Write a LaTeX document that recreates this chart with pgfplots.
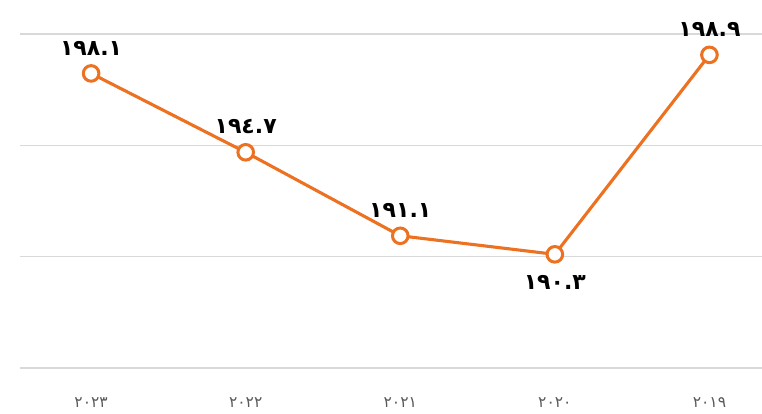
\documentclass[border=0pt]{standalone}
\usepackage{pgfplots}
\usepackage{pgfplotstable}
\pgfplotsset{compat=1.18}
\usepackage{fontspec}
\setmainfont{DejaVu Sans}
\newfontfamily\arabicfont[Script=Arabic]{DejaVu Sans}
\definecolor{lineorange}{HTML}{EC7120}
\definecolor{gridgray}{HTML}{D9D9D9}
\definecolor{ticklab}{HTML}{595959}
\pgfplotstableread{
x y
0 198.1
1 194.7
2 191.1
3 190.3
4 198.9
}\datatable
\pgfplotstableread{
x y lab
0 198.1 ١٩٨.١
1 194.7 ١٩٤.٧
2 191.1 ١٩١.١
4 198.9 ١٩٨.٩
}\abovetable
\pgfplotstableread{
x y lab
3 190.3 ١٩٠.٣
}\belowtable
\begin{document}
\begin{tikzpicture}
\useasboundingbox (-20pt,-46pt) rectangle (742pt,368pt);
\begin{axis}[
  at={(0pt,0pt)}, anchor=south west,
  scale only axis,
  width=742pt, height=334pt,
  xmin=-0.46, xmax=4.34,
  ymin=185.4, ymax=199.8,
  ytick={185.4,190.2,195.0,199.8},
  yticklabels={},
  xtick={0,1,2,3,4},
  xticklabels={{٢٠٢٣},{٢٠٢٢},{٢٠٢١},{٢٠٢٠},{٢٠١٩}},
  xticklabel style={font=\arabicfont\fontsize{15.5}{15.5}\selectfont, text=ticklab, inner sep=0pt, anchor=north, yshift=-29pt},
  ymajorgrids,
  major grid style={gridgray, line width=1.3pt},
  axis line style={draw=none},
  tick style={draw=none},
  clip=false,
]
\addplot[
  lineorange, line width=3.1pt,
  mark=*, mark size=7.8pt,
  mark options={fill=white, draw=lineorange, line width=3pt},
] table[x=x, y=y] {\datatable};
\addplot[
  draw=none, mark=none,
  point meta=explicit symbolic,
  nodes near coords,
  every node near coord/.append style={font=\arabicfont\bfseries\fontsize{22}{22}\selectfont, text=black, inner sep=0pt, anchor=south, yshift=18pt},
] table[x=x, y=y, meta=lab] {\abovetable};
\addplot[
  draw=none, mark=none,
  point meta=explicit symbolic,
  nodes near coords,
  every node near coord/.append style={font=\arabicfont\bfseries\fontsize{22}{22}\selectfont, text=black, inner sep=0pt, anchor=north, yshift=-21pt},
] table[x=x, y=y, meta=lab] {\belowtable};
\end{axis}
\end{tikzpicture}
\end{document}
